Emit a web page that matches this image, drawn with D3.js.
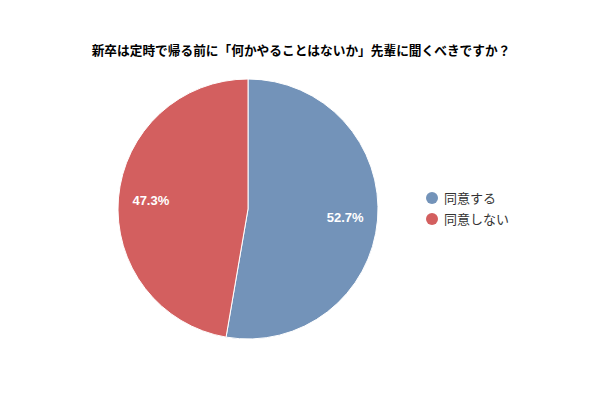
<!DOCTYPE html>
<html><head><meta charset="utf-8">
<script src="https://cdn.jsdelivr.net/npm/d3@7"></script>
<style>body{margin:0;background:#fff;}svg{display:block;}</style>
</head><body>
<svg id="c" width="600" height="400"></svg>
<script>
const title = "新卒は定時で帰る前に「何かやることはないか」先輩に聞くべきですか？";
const categories = ["同意する", "同意しない"];
const values = [52.7, 47.3];
const colors = ["#7393b9", "#d35f5f"];

const svg = d3.select("#c");
const font = "'Noto Sans CJK JP', 'Noto Sans', sans-serif";
svg.append("text").attr("x", 301).attr("y", 55).attr("text-anchor", "middle")
  .attr("font-family", font).attr("font-size", 12.7).attr("font-weight", "bold")
  .attr("fill", "#000").text(title);

const cx = 248, cy = 209, r = 130;
const pie = d3.pie().sort(null).value(d => d)(values);
const arc = d3.arc().innerRadius(0).outerRadius(r);
const labelArc = d3.arc().innerRadius(r * 0.75).outerRadius(r * 0.75);
const g = svg.append("g").attr("transform", `translate(${cx},${cy})`);
g.selectAll("path").data(pie).join("path")
  .attr("d", arc).attr("fill", (d, i) => colors[i])
  .attr("stroke", "#fff").attr("stroke-width", 1);
g.selectAll("text").data(pie).join("text")
  .attr("transform", d => `translate(${labelArc.centroid(d)})`)
  .attr("text-anchor", "middle").attr("dy", "0.35em")
  .attr("font-family", "'Liberation Sans', Arial, sans-serif").attr("font-size", 13).attr("font-weight", "bold")
  .attr("fill", "#fff").text(d => d.data.toFixed(1) + "%");

const lg = svg.append("g");
categories.forEach((c, i) => {
  const y = 198 + i * 21;
  lg.append("circle").attr("cx", 432).attr("cy", y).attr("r", 6).attr("fill", colors[i]);
  lg.append("text").attr("x", 444).attr("y", y).attr("dy", "0.35em")
    .attr("font-family", font).attr("font-size", 13).attr("fill", "#333").text(c);
});
</script>
</body></html>
